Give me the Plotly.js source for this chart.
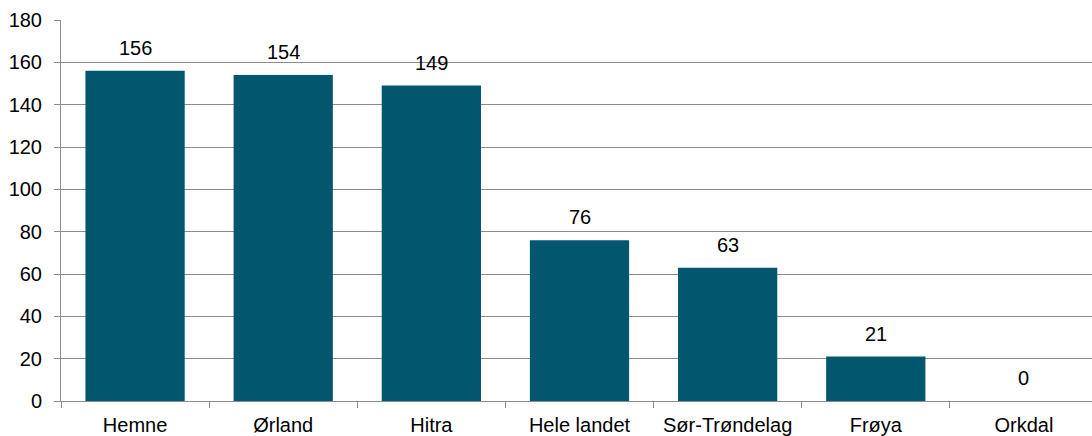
<!DOCTYPE html>
<html>
<head>
<meta charset="utf-8">
<script src="https://cdn.plot.ly/plotly-3.0.1.min.js"></script>
<style>
html,body{margin:0;padding:0;overflow:hidden;background:#fff;width:1092px;height:436px;}
#chart{width:1100px;height:436px;}
</style>
</head>
<body>
<div id="chart"></div>
<script>
const categories = ["Hemne", "Ørland", "Hitra", "Hele landet", "Sør-Trøndelag", "Frøya", "Orkdal"];
const values = [156, 154, 149, 76, 63, 21, 0];
const yTicks = [0, 20, 40, 60, 80, 100, 120, 140, 160, 180];

const FONT = "Liberation Sans, Arial, sans-serif";
const FS = 20;

const trace = {
  type: "bar",
  x: categories,
  y: values,
  marker: {color: "#02566E", line: {width: 0}},
  hoverinfo: "none"
};

const annotations = categories.map((c, i) => ({
  x: c, y: values[i], xref: "x", yref: "y",
  text: String(values[i]), showarrow: false,
  yanchor: "bottom", yshift: 10,
  font: {family: FONT, size: FS, color: "#000"}
}));

const layout = {
  width: 1100, height: 436,
  margin: {l: 61, r: 2, t: 20, b: 35},
  paper_bgcolor: "#fff", plot_bgcolor: "#fff",
  bargap: 0.33,
  showlegend: false,
  font: {family: FONT, size: FS, color: "#000"},
  xaxis: {
    type: "category",
    range: [-0.5, 6.5],
    showline: true, linecolor: "#8c8c8c", linewidth: 1,
    ticks: "outside", ticklen: 6, tickcolor: "#8c8c8c", tickson: "boundaries",
    showgrid: false, zeroline: false,
    tickfont: {family: FONT, size: FS, color: "#000"},
    ticklabelstandoff: 6
  },
  yaxis: {
    range: [0, 180],
    tickvals: yTicks,
    ticktext: yTicks.map(String),
    showline: true, linecolor: "#8c8c8c", linewidth: 1,
    ticks: "outside", ticklen: 6, tickcolor: "#8c8c8c",
    showgrid: true, gridcolor: "#8c8c8c", gridwidth: 1,
    zeroline: false,
    tickfont: {family: FONT, size: FS, color: "#000"},
    ticklabelstandoff: 8
  },
  annotations: annotations
};

Plotly.newPlot("chart", [trace], layout, {staticPlot: true, displayModeBar: false});
</script>
</body>
</html>
